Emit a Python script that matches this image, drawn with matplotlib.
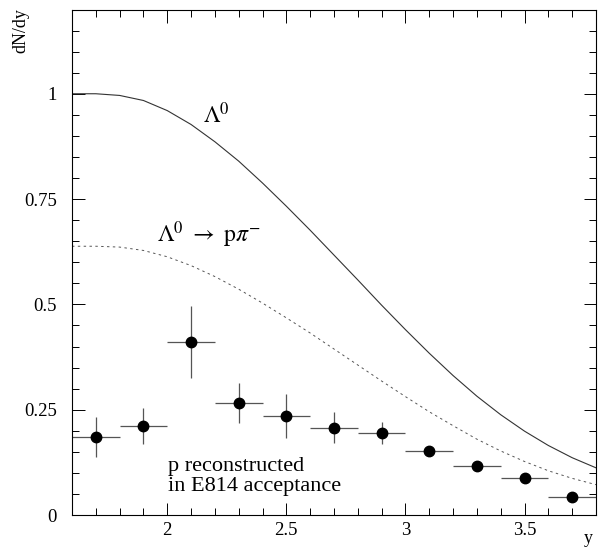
import matplotlib
matplotlib.use("Agg")
import matplotlib.pyplot as plt
from matplotlib.ticker import MultipleLocator

# --- data ---
curve_x = [1.6, 1.7, 1.8, 1.9, 2.0, 2.1, 2.2, 2.3, 2.4, 2.5, 2.6, 2.7,
           2.8, 2.9, 3.0, 3.1, 3.2, 3.3, 3.4, 3.5, 3.6, 3.7, 3.8]
lambda_all = [1.000, 1.000, 0.996, 0.984, 0.960, 0.927, 0.886, 0.840, 0.788,
              0.733, 0.676, 0.617, 0.558, 0.498, 0.440, 0.384, 0.331, 0.282,
              0.238, 0.199, 0.165, 0.136, 0.112]
lambda_ppi = [0.638, 0.638, 0.636, 0.628, 0.613, 0.592, 0.566, 0.536, 0.503,
              0.468, 0.432, 0.394, 0.356, 0.318, 0.281, 0.245, 0.212, 0.180,
              0.152, 0.127, 0.105, 0.087, 0.072]

pts_x = [1.7, 1.9, 2.1, 2.3, 2.5, 2.7, 2.9, 3.1, 3.3, 3.5, 3.7]
pts_y = [0.185, 0.211, 0.411, 0.266, 0.235, 0.207, 0.195, 0.152, 0.116, 0.088, 0.043]
pts_yerr = [0.048, 0.043, 0.086, 0.047, 0.052, 0.037, 0.026, 0.011, 0.006, 0.005, 0.005]
pts_xerr = [0.1] * len(pts_x)

xticks = [2, 2.5, 3, 3.5]
xticklabels = ["2", "2.5", "3", "3.5"]
yticks = [0, 0.25, 0.5, 0.75, 1]
yticklabels = ["0", "0.25", "0.5", "0.75", "1"]

plt.rcParams['font.family'] = ['Liberation Serif', 'DejaVu Serif']
plt.rcParams['mathtext.fontset'] = 'stix'

fig = plt.figure(figsize=(5.98, 5.48), dpi=100)
ax = fig.add_axes([72/598, 33/548, 524/598, 505.5/548])

ax.plot(curve_x, lambda_all, color='#333333', lw=0.8)
ax.plot(curve_x, lambda_ppi, color='#555555', lw=0.7, dashes=(2.5, 3.5))
ax.errorbar(pts_x, pts_y, xerr=pts_xerr, yerr=pts_yerr, fmt='o', color='black',
            ecolor='#555555', elinewidth=0.9, markersize=7.5, capsize=0)

ax.set_xlim(1.6, 3.8)
ax.set_ylim(0, 1.2)
ax.set_xticks(xticks)
ax.set_xticklabels(xticklabels)
ax.set_yticks(yticks)
ax.set_yticklabels(yticklabels)
ax.xaxis.set_minor_locator(MultipleLocator(0.1))
ax.yaxis.set_minor_locator(MultipleLocator(0.05))
ax.tick_params(which='both', direction='in', top=True, right=True, labelsize=13.5, width=0.7)
ax.tick_params(which='major', length=9)
ax.tick_params(which='minor', length=5)
ax.tick_params(axis='y', which='major', pad=11)
ax.tick_params(axis='x', which='major', pad=5)
for s in ax.spines.values():
    s.set_linewidth(0.8)

ax.text(2.152, 0.931, r'$\Lambda^0$', fontsize=17, ha='left', va='baseline')
ax.text(1.958, 0.648, r'$\Lambda^0\ \rightarrow\ \mathrm{p}\pi^{-}$', fontsize=17, ha='left', va='baseline')
ax.text(2.004, 0.138, 'p reconstructed\nin E814 acceptance', fontsize=16, ha='left', va='top',
        linespacing=1.1)

fig.text(21/598, 1 - 8/548, 'dN/dy', rotation=90, ha='center', va='top', fontsize=13)
fig.text(588/598, 1 - 547/548, 'y', ha='center', va='bottom', fontsize=13)

fig.savefig('out.png', dpi=100)
